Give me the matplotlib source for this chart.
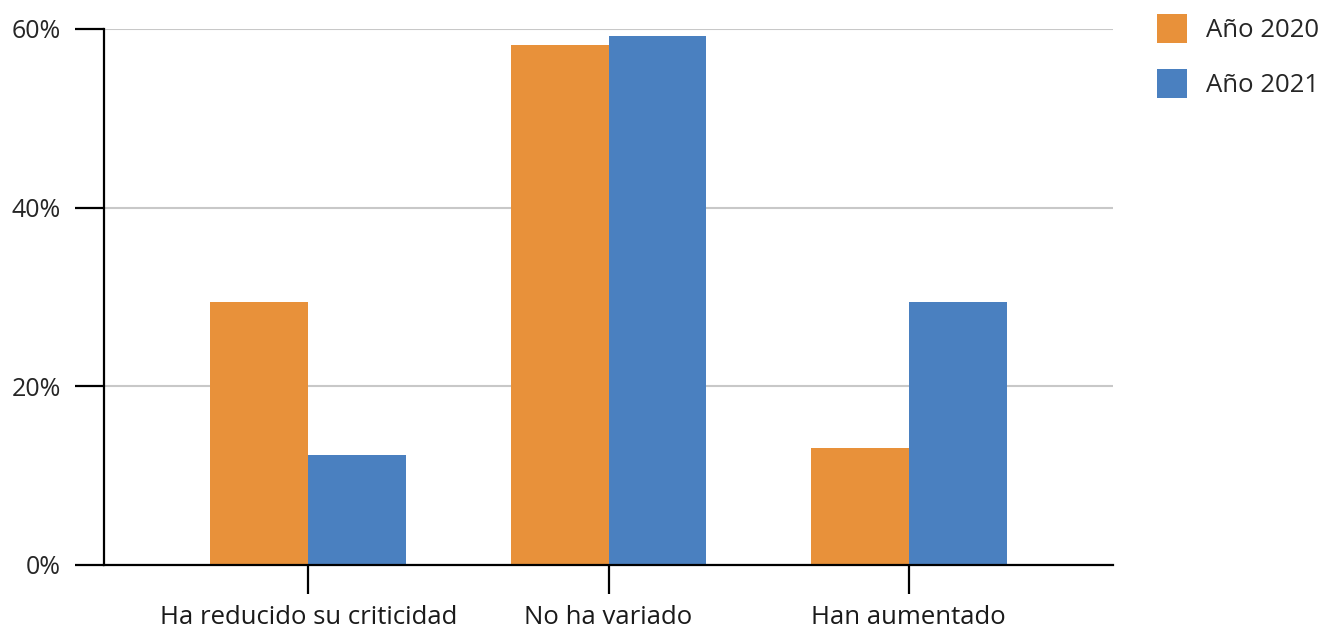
import matplotlib
matplotlib.use("Agg")
import matplotlib.pyplot as plt
import numpy as np

categories = ["Ha reducido su criticidad", "No ha variado", "Han aumentado"]
series_names = ["Año 2020", "Año 2021"]
values_2020 = [29.4, 58.2, 13.1]
values_2021 = [12.3, 59.2, 29.4]
y_ticks = [0, 20, 40, 60]
y_tick_labels = ["0%", "20%", "40%", "60%"]

plt.rcParams["font.family"] = ["Open Sans", "DejaVu Sans"]

ORANGE = "#E8913A"
BLUE = "#4A80C0"

fig = plt.figure(figsize=(13.25, 6.34), dpi=100)
ax = fig.add_axes([104 / 1325, 1 - 565 / 634, (1113 - 104) / 1325, (565 - 29) / 634])

x = np.arange(len(categories))
width = 0.326
b1 = ax.bar(x - width / 2, values_2020, width, color=ORANGE, label=series_names[0], zorder=3)
b2 = ax.bar(x + width / 2, values_2021, width, color=BLUE, label=series_names[1], zorder=3)

ax.set_xlim(-0.68, 2.68)
ax.set_ylim(0, 60)

ax.set_yticks(y_ticks)
ax.set_yticklabels(y_tick_labels, fontsize=18, color="#262626")
ax.set_xticks(x)
ax.set_xticklabels(categories, fontsize=18.5, color="#1a1a1a")

ax.tick_params(axis="y", direction="out", length=21, width=1.6, color="black", pad=10)
ax.tick_params(axis="x", direction="out", length=21, width=1.6, color="black", pad=8)

ax.yaxis.grid(True, color="#c8c8c8", linewidth=1.5, zorder=0)
ax.set_axisbelow(True)

for side in ["top", "right"]:
    ax.spines[side].set_visible(False)
for side in ["left", "bottom"]:
    ax.spines[side].set_color("black")
    ax.spines[side].set_linewidth(1.6)
    ax.spines[side].set_zorder(4)

fig.legend(handles=[b1, b2], loc="upper left", bbox_to_anchor=(1157 / 1325, 1 - 14 / 634),
           frameon=False, fontsize=18.5, handlelength=1.17, handleheight=1.35,
           labelspacing=1.0, handletextpad=0.75, borderpad=0, borderaxespad=0,
           labelcolor="#262626")

fig.savefig("out.png", dpi=100, facecolor="white")
